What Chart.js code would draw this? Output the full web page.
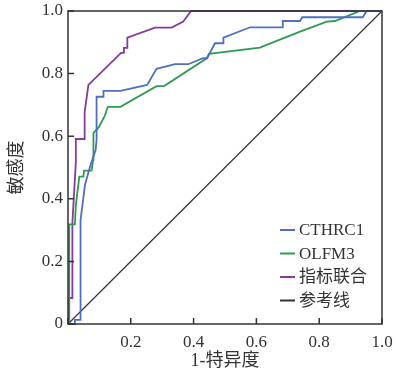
<!DOCTYPE html>
<html>
<head>
<meta charset="utf-8">
<script src="https://cdn.jsdelivr.net/npm/chart.js@4/dist/chart.umd.min.js"></script>
<style>
  html, body { margin: 0; padding: 0; background: #fff; }
  #wrap { width: 396px; height: 378px; }
</style>
</head>
<body>
<div id="wrap"><canvas id="out" width="396" height="378"></canvas></div>
<script>
// ROC curves (x = 1-特异度, y = 敏感度)
const seriesNames = ["CTHRC1", "OLFM3", "指标联合", "参考线"];
const seriesColors = ["#4f6fbf", "#2f9a52", "#863c98", "#333333"];

const cthrc1X = [0, 0.022, 0.022, 0.040, 0.040, 0.054, 0.070, 0.088, 0.091, 0.091, 0.113, 0.113, 0.167, 0.252, 0.282, 0.341, 0.383, 0.430, 0.443, 0.468, 0.495, 0.495, 0.580, 0.684, 0.684, 0.739, 0.746, 0.939, 0.951, 1];
const cthrc1Y = [0, 0, 0.013, 0.013, 0.332, 0.444, 0.502, 0.556, 0.588, 0.726, 0.726, 0.745, 0.745, 0.764, 0.815, 0.830, 0.830, 0.849, 0.849, 0.897, 0.897, 0.915, 0.948, 0.948, 0.968, 0.968, 0.980, 0.980, 1, 1];

const olfm3X = [0, 0.004, 0.004, 0.022, 0.025, 0.036, 0.049, 0.051, 0.075, 0.080, 0.081, 0.098, 0.117, 0.127, 0.167, 0.282, 0.306, 0.442, 0.449, 0.611, 0.739, 0.824, 0.850, 0.930, 1];
const olfm3Y = [0, 0, 0.318, 0.318, 0.380, 0.471, 0.471, 0.490, 0.490, 0.524, 0.610, 0.629, 0.665, 0.694, 0.694, 0.760, 0.760, 0.849, 0.863, 0.883, 0.934, 0.966, 0.968, 1, 1];

const comboX = [0, 0.003, 0.003, 0.014, 0.014, 0.025, 0.025, 0.053, 0.053, 0.065, 0.169, 0.178, 0.178, 0.189, 0.189, 0.277, 0.330, 0.367, 0.392, 1];
const comboY = [0, 0, 0.083, 0.083, 0.323, 0.518, 0.591, 0.591, 0.677, 0.764, 0.866, 0.866, 0.882, 0.882, 0.915, 0.947, 0.947, 0.966, 1, 1];

const refX = [0, 1];
const refY = [0, 1];

const tickValues = [0, 0.2, 0.4, 0.6, 0.8, 1];

const FONT = "'Liberation Serif', 'Noto Sans CJK SC'";

function toPoints(xs, ys) {
  return xs.map((x, i) => ({ x: x, y: ys[i] }));
}

const allX = [cthrc1X, olfm3X, comboX, refX];
const allY = [cthrc1Y, olfm3Y, comboY, refY];

const datasets = seriesNames.map((name, i) => ({
  label: name,
  data: toPoints(allX[i], allY[i]),
  borderColor: seriesColors[i],
  backgroundColor: seriesColors[i],
  borderWidth: i === 3 ? 1.2 : 1.8,
  pointRadius: 0,
  tension: 0,
  fill: false,
  clip: 3
}));

// scale paddings would shrink the plot box, drop them
function noPad(scale) {
  scale.paddingTop = 0;
  scale.paddingBottom = 0;
  scale.paddingLeft = 0;
  scale.paddingRight = 0;
}

// box around plot, inward ticks and the legend inside the plot
const framePlugin = {
  id: "frame",
  afterDraw(chart) {
    const ctx = chart.ctx;
    const a = chart.chartArea;
    const xs = chart.scales.x, ys = chart.scales.y;
    ctx.save();
    ctx.strokeStyle = "#333";
    ctx.lineWidth = 1.5;
    ctx.strokeRect(a.left, a.top, a.right - a.left, a.bottom - a.top);
    ctx.beginPath();
    tickValues.forEach(v => {
      const px = xs.getPixelForValue(v);
      ctx.moveTo(px, a.bottom);
      ctx.lineTo(px, a.bottom - 6);
      const py = ys.getPixelForValue(v);
      ctx.moveTo(a.left, py);
      ctx.lineTo(a.left + 6, py);
    });
    ctx.stroke();

    // legend
    const lx = 280, tx = 299;
    const rows = [230, 253.5, 277, 300.5];
    ctx.font = "17px " + FONT;
    ctx.textBaseline = "middle";
    ctx.textAlign = "left";
    chart.data.datasets.forEach((ds, i) => {
      const y = rows[i];
      ctx.strokeStyle = ds.borderColor;
      ctx.lineWidth = 2;
      ctx.beginPath();
      ctx.moveTo(lx, y);
      ctx.lineTo(lx + 15, y);
      ctx.stroke();
      ctx.fillStyle = "#333";
      ctx.fillText(ds.label, tx, y + 1);
    });
    ctx.restore();
  }
};

const canvasCtx = document.getElementById("out").getContext("2d");
const chart = new Chart(canvasCtx, {
  type: "line",
  data: { datasets: datasets },
  options: {
    responsive: false,
    animation: false,
    layout: { padding: { top: 11, right: 14, left: 0, bottom: 0 } },
    plugins: { legend: { display: false }, tooltip: { enabled: false } },
    scales: {
      x: {
        type: "linear",
        min: 0,
        max: 1,
        afterFit(scale) { scale.height = 54; noPad(scale); },
        afterBuildTicks(scale) { scale.ticks = tickValues.map(v => ({ value: v })); },
        grid: { display: false, drawTicks: false },
        border: { display: false },
        ticks: {
          padding: 8,
          color: "#333",
          font: { family: FONT, size: 17 },
          maxRotation: 0,
          callback: v => (v === 0 ? "" : v.toFixed(1))
        },
        title: {
          display: true,
          text: "1-特异度",
          color: "#333",
          font: { family: FONT, size: 18 },
          padding: { top: 0, bottom: 6 }
        }
      },
      y: {
        type: "linear",
        min: 0,
        max: 1,
        afterFit(scale) { scale.width = 68; noPad(scale); },
        afterBuildTicks(scale) { scale.ticks = tickValues.map(v => ({ value: v })); },
        grid: { display: false, drawTicks: false },
        border: { display: false },
        ticks: {
          padding: 5,
          color: "#333",
          font: { family: FONT, size: 17 },
          callback: v => (v === 0 ? "0" : v.toFixed(1))
        },
        title: {
          display: true,
          text: "敏感度",
          color: "#333",
          font: { family: FONT, size: 18 },
          padding: { top: 6, bottom: 0 }
        }
      }
    }
  },
  plugins: [framePlugin]
});
</script>
</body>
</html>
